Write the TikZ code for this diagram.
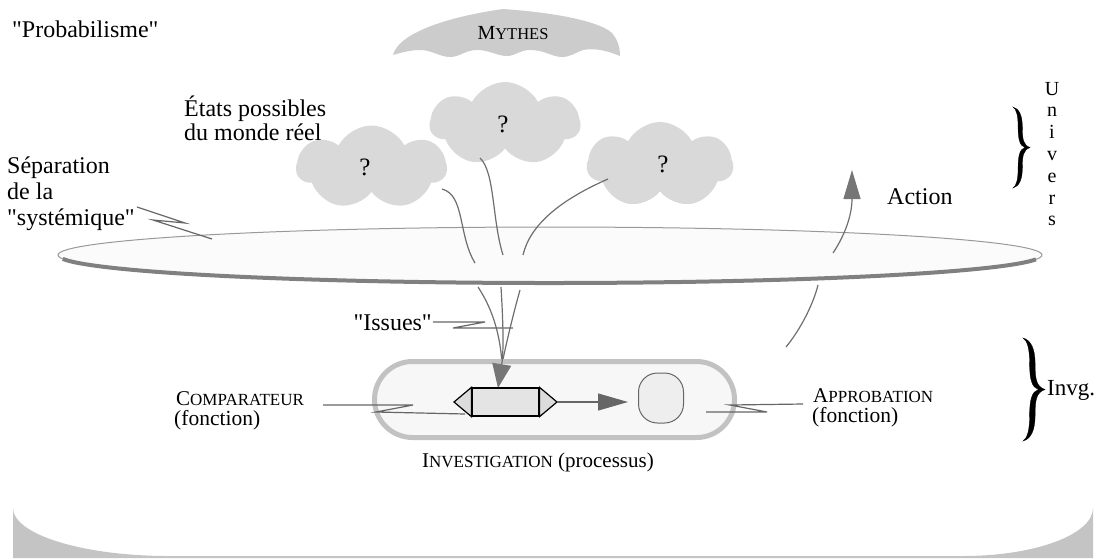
\documentclass[tikz,border=0pt]{standalone}
\usepackage{fontspec}
\setmainfont{Liberation Serif}[Ligatures=TeXOff]
\usetikzlibrary{shapes.symbols,shapes.geometric,arrows.meta}

\definecolor{cloudgray}{HTML}{D9D9D9}
\definecolor{mythgray}{HTML}{CCCCCC}
\definecolor{bowlgray}{HTML}{C4C4C4}
\definecolor{planfill}{HTML}{FBFBFB}
\definecolor{planline}{HTML}{999999}
\definecolor{planedge}{HTML}{808080}
\definecolor{boxline}{HTML}{C2C2C2}
\definecolor{boxfill}{HTML}{F7F7F7}
\definecolor{leadgray}{HTML}{666666}
\definecolor{linkgray}{HTML}{6E6E6E}
\definecolor{headgray}{HTML}{767676}
\definecolor{cmpfill}{HTML}{E4E4E4}
\definecolor{tripfill}{HTML}{DCDCDC}
\definecolor{apprfill}{HTML}{EEEEEE}

% fake small capitals: large initial, smaller upper-case rest
\newcommand{\fakesc}[2]{{\fontsize{21}{24}\selectfont #1}{\fontsize{17}{20}\selectfont #2}}
\newcommand{\bracepath}{%
  (0,0) .. controls (0.35,0.02) and (0.55,0.1) .. (0.55,0.25)
  .. controls (0.55,0.4) and (0.6,0.47) .. (1,0.5)
  .. controls (0.6,0.53) and (0.55,0.6) .. (0.55,0.75)
  .. controls (0.55,0.9) and (0.35,0.98) .. (0,1)
  .. controls (0.2,0.97) and (0.3,0.9) .. (0.3,0.75)
  .. controls (0.3,0.6) and (0.4,0.52) .. (0.7,0.5)
  .. controls (0.4,0.48) and (0.3,0.4) .. (0.3,0.25)
  .. controls (0.3,0.1) and (0.2,0.03) .. (0,0) -- cycle}

\begin{document}
\begin{tikzpicture}[x=1pt,y=-1pt,
  txt/.style={inner sep=0pt, anchor=base west, font=\fontsize{24}{26}\selectfont},
  subtxt/.style={inner sep=0pt, anchor=base west, font=\fontsize{21.5}{24}\selectfont},
  qmark/.style={inner sep=0pt, anchor=base, font=\fontsize{25}{26}\selectfont},
  cloudnode/.style={cloud, cloud puffs=7, cloud puff arc=125, aspect=1.8,
    fill=cloudgray, inner sep=0pt},
  lead/.style={draw=leadgray, line width=1.2pt, line join=miter},
  link/.style={draw=linkgray, line width=1.2pt},
  bigtip/.style={-{Triangle[length=24pt,width=19pt,color=headgray]}},
  acttip/.style={-{Triangle[length=29pt,width=17pt,color=headgray]}},
  flowtip/.style={-{Triangle[length=30pt,width=17pt,color=leadgray]}},
  bracefill/.style={fill=black, draw=black, line width=0.3pt}
]
\useasboundingbox (0,0) rectangle (1102,558);

% ---- bottom bowl ----
\fill[bowlgray] (13,508) .. controls (13,534.5) and (83,556) .. (169,556)
  -- (963,556) .. controls (1035,556) and (1093,534.5) .. (1093,508)
  -- (1093,558) -- (13,558) -- cycle;

% ---- myths ----
\fill[mythgray] (393,55) .. controls (398,35) and (440,18) .. (503,9)
  .. controls (560,13) and (600,22) .. (612,33)
  .. controls (618,40) and (620,48) .. (620,56)
  .. controls (605,50) and (595,48) .. (583,50)
  .. controls (575,53) and (570,57) .. (562,57)
  .. controls (552,57) and (545,50) .. (530,50)
  .. controls (520,50) and (515,56) .. (507,56)
  .. controls (497,56) and (490,50) .. (477,50)
  .. controls (465,50) and (460,57) .. (450,57)
  .. controls (440,57) and (432,50) .. (420,50)
  .. controls (410,50) and (400,53) .. (393,55) -- cycle;
\node[inner sep=0pt, anchor=base] (mythes) at (513,39)
  {{\fontsize{20}{22}\selectfont M}{\fontsize{16.5}{18}\selectfont YTHES}};

\node[txt] (prob) at (12,37) {"Probabilisme"};

% ---- possible states of the world ----
\node[cloudnode, minimum width=150, minimum height=84] (c1) at (371.5,167.5) {};
\node[cloudnode, minimum width=150, minimum height=84, shape border rotate=12] (c2) at (505,124) {};
\node[cloudnode, minimum width=146, minimum height=86, shape border rotate=24] (c3) at (660,165) {};
\node[qmark] (q1) at (365,175) {?};
\node[qmark] (q2) at (503,132) {?};
\node[qmark] (q3) at (663,172) {?};

\node[txt] (etats1) at (184,116) {États possibles};
\node[txt] (etats2) at (184,140) {du monde réel};

% ---- separation plane ----
\draw[draw=planline, fill=planfill, line width=1pt] (550,255) ellipse [x radius=492, y radius=28];
\draw[draw=planedge, line width=4pt] (550,255) ++(172:492 and 28)
  arc[start angle=172, end angle=9, x radius=492, y radius=28];

\node[txt] (sep1) at (7,173) {Séparation};
\node[txt] (sep2) at (7,199) {de la};
\node[txt] (sep3) at (7,225) {"systémique"};
\coordinate (sepA) at (137,207);
\coordinate (sepB) at (212,239);
\draw[lead] (sepA) -- (185,223) -- (153,220) -- (sepB);

% ---- issues: from the clouds, through the plane, to the comparator ----
\coordinate (t1) at (442,189);
\coordinate (t2) at (480,158);
\coordinate (t3) at (608,179);
\coordinate (e1) at (475,263);
\coordinate (e2) at (503,255);
\coordinate (e3) at (523,255);
\draw[link] (t1) .. controls (465,195) and (458,235) .. (e1);
\draw[link] (t2) .. controls (495,172) and (492,220) .. (e2);
\draw[link] (t3) .. controls (560,200) and (530,225) .. (e3);

\coordinate (b1) at (478,287);
\coordinate (b2) at (501,287);
\coordinate (b3) at (520,290);
\coordinate (meet) at (502,364);
\draw[link] (b1) .. controls (490,305) and (500,330) .. (meet);
\draw[link] (b3) .. controls (513,315) and (507,340) .. (meet);

\node[txt, anchor=base east] (issues) at (432,330) {"Issues"};
\coordinate (isA) at (433,322);
\coordinate (isB) at (513,328);
\draw[lead] (isA) -- (485,322) -- (453,328) -- (isB);

% ---- investigation process ----
\node[draw=boxline, fill=boxfill, line width=5pt, rounded corners=38pt,
  minimum width=360, minimum height=76, inner sep=0pt] (inv) at (554.5,399.5) {};

\draw[link, bigtip] (b2) .. controls (503,320) and (504,350) .. (498,388);

\node[draw=black, fill=cmpfill, line width=1.2pt, minimum width=67, minimum height=28,
  inner sep=0pt] (cmp) at (505.5,402) {};
\coordinate (cmpL) at (454,402);
\coordinate (cmpR) at (557,402);
\filldraw[fill=tripfill, draw=black, line width=1.2pt, line join=miter]
  (cmp.north west) -- (cmpL) -- (cmp.south west) -- cycle;
\filldraw[fill=tripfill, draw=black, line width=1.2pt, line join=miter]
  (cmp.north east) -- (cmpR) -- (cmp.south east) -- cycle;

\node[draw=leadgray, fill=apprfill, line width=1pt, minimum width=45, minimum height=50,
  rounded corners=19pt, inner sep=0pt] (appr) at (661,398) {};
\draw[link, draw=leadgray, flowtip, shorten >=10pt] (cmpR) -- (cmpR -| appr.west);

\node[inner sep=0pt, anchor=base west] (compl) at (176,405) {\fakesc{C}{OMPARATEUR}};
\node[subtxt] (compf) at (174,425) {(fonction)};
\coordinate (coA) at (323,405);
\coordinate (coB) at (465,414);
\draw[lead] (coA) -- (413,405) -- (376,412) -- (coB);

\node[inner sep=0pt, anchor=base west] (apprl) at (813,402) {\fakesc{A}{PPROBATION}};
\node[subtxt] (apprf) at (812,422) {(fonction)};
\coordinate (apA) at (706,412);
\coordinate (apB) at (803,404);
\draw[lead] (apA) -- (767,412) -- (730,405) -- (apB);

\node[inner sep=0pt, anchor=base west] (invl) at (422,467)
  {\fakesc{I}{NVESTIGATION}{\fontsize{21}{24}\selectfont\ (processus)}};

% ---- action ----
\coordinate (a1) at (786,347);
\coordinate (a2) at (818,285);
\coordinate (a3) at (833,253);
\coordinate (a4) at (852,170);
\draw[link] (a1) .. controls (800,330) and (813,305) .. (a2);
\draw[link, acttip] (a3) .. controls (845,235) and (852,215) .. (a4);
\node[txt] (action) at (887,204) {Action};

% ---- braces ----
\begin{scope}[shift={(1013,107)}, xscale=17, yscale=81]
  \path[bracefill] \bracepath;
\end{scope}
\foreach \l [count=\i] in {U,n,i,v,e,r,s}
  \node[inner sep=0pt, anchor=base, font=\fontsize{20}{22}\selectfont]
    (univ\i) at (1052,{95+21.8*(\i-1)}) {\l};

\begin{scope}[shift={(1023,338)}, xscale=22, yscale=103]
  \path[bracefill] \bracepath;
\end{scope}
\node[txt, font=\fontsize{23}{25}\selectfont] (invg) at (1047,395) {Invg.};

\end{tikzpicture}
\end{document}
